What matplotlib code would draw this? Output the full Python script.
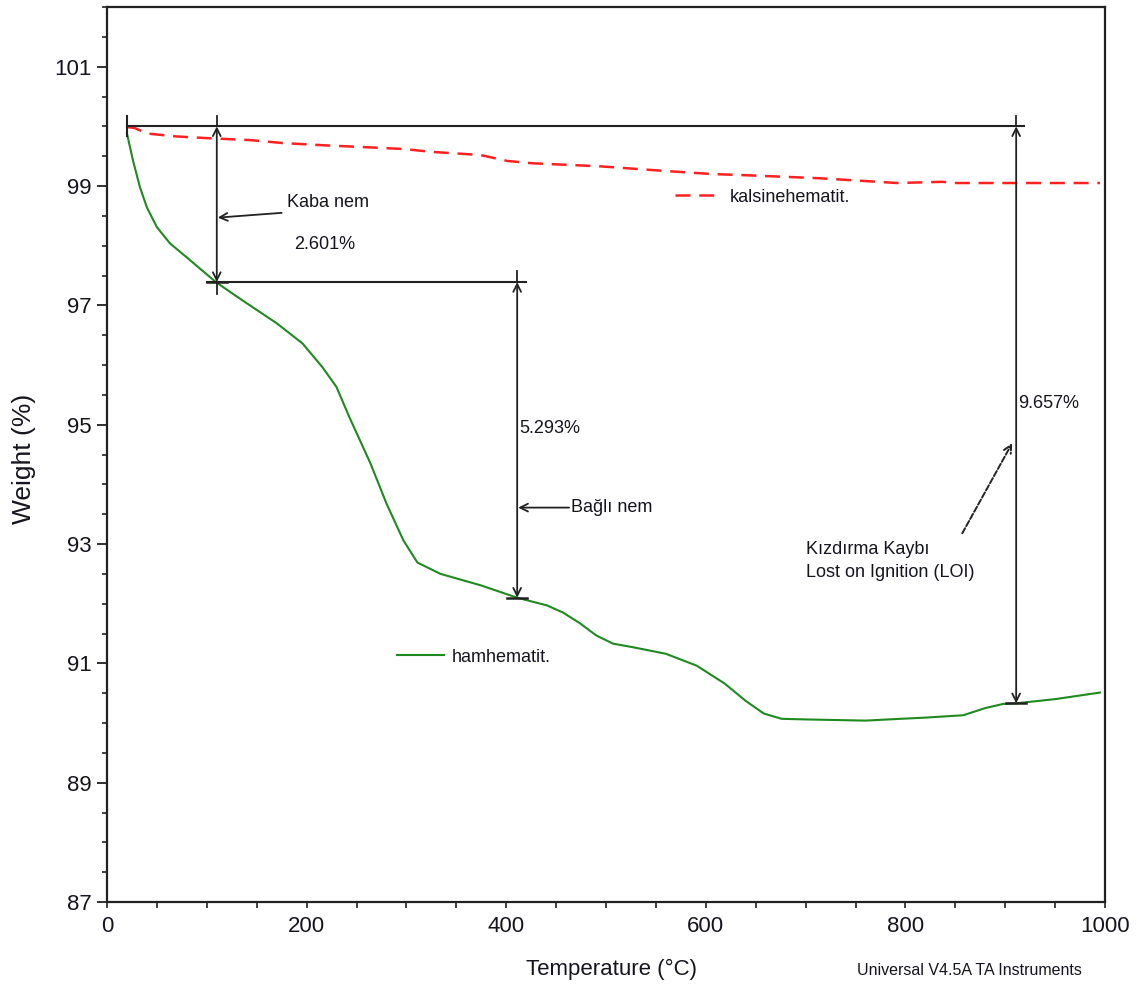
import matplotlib
matplotlib.use('Agg')
import matplotlib.pyplot as plt
from matplotlib import font_manager
from matplotlib.lines import Line2D
from matplotlib.ticker import MultipleLocator

# --- veri (TGA egrileri) ---
ham_T = [20, 26, 33, 40, 50, 63, 83, 109, 136, 170, 196, 216, 230, 243, 264, 280,
         297, 311, 334, 374, 411, 441, 457, 474, 490, 507, 527, 560, 591, 619, 640,
         658, 676, 700, 760, 795, 820, 858, 880, 898, 911, 950, 995]
ham_W = [99.88, 99.43, 98.98, 98.64, 98.31, 98.04, 97.76, 97.39, 97.08, 96.70, 96.36,
         95.96, 95.63, 95.12, 94.35, 93.68, 93.06, 92.69, 92.50, 92.31, 92.10, 91.97,
         91.85, 91.67, 91.47, 91.33, 91.27, 91.16, 90.96, 90.66, 90.37, 90.16, 90.07,
         90.06, 90.04, 90.07, 90.09, 90.13, 90.25, 90.32, 90.33, 90.40, 90.51]

kal_T = [20, 28, 40, 70, 103, 143, 176, 220, 260, 297, 327, 374, 401, 427, 494, 561,
         607, 641, 714, 792, 837, 851, 995]
kal_W = [99.99, 99.97, 99.88, 99.83, 99.80, 99.77, 99.72, 99.68, 99.65, 99.62, 99.57,
         99.52, 99.42, 99.38, 99.33, 99.25, 99.20, 99.18, 99.13, 99.05, 99.07, 99.05, 99.05]

# olcum oklari: (sicaklik, ust agirlik, alt agirlik, etiket)
olcum_T = [110, 411, 911]
olcum_ust = [100.0, 97.39, 100.0]
olcum_alt = [97.39, 92.10, 90.33]
olcum_etiket = ['2.601%', '5.293%', '9.657%']

try:
    font_manager.findfont('Liberation Sans Narrow', fallback_to_default=False)
    dar = 'Liberation Sans Narrow'
    ys = 15
except Exception:
    dar = 'Liberation Sans'
    ys = 13
plt.rcParams['font.family'] = ['Liberation Sans', 'DejaVu Sans']

yazi = '#15151f'
siyah = '#222222'

fig = plt.figure(figsize=(11.48, 9.89), dpi=100)
ax = fig.add_axes([107/1148, 87/989, 998/1148, 895/989])

ax.plot(ham_T, ham_W, color='#1f8a1f', lw=1.5)
ax.plot(kal_T, kal_W, color='#ff2020', lw=1.8, dashes=(6, 3.5))

ax.set_xlim(0, 1000)
ax.set_ylim(87, 102)
ax.xaxis.set_major_locator(MultipleLocator(200))
ax.xaxis.set_minor_locator(MultipleLocator(50))
ax.yaxis.set_minor_locator(MultipleLocator(0.5))
ax.set_yticks([87, 89, 91, 93, 95, 97, 99, 101])
ax.tick_params(axis='y', which='major', length=7, width=1.3, pad=4, labelsize=16, colors=siyah, labelcolor=yazi)
ax.tick_params(axis='y', which='minor', length=3.6, width=1.2, colors=siyah)
ax.tick_params(axis='x', which='both', length=4, width=1.2, pad=6, labelsize=16, colors=siyah, labelcolor=yazi)
for s in ax.spines.values():
    s.set_linewidth(1.6)
    s.set_color(siyah)

ax.set_xlabel('Temperature (°C)', fontsize=16, color=yazi, va='center')
ax.xaxis.set_label_coords(0.506, -0.0755)
ax.set_ylabel('Weight (%)', fontsize=19, color=yazi, va='center')
ax.yaxis.set_label_coords(-0.083, 0.495)

# yatay referans cizgileri
ax.plot([20, 919], [100.0, 100.0], color=siyah, lw=1.5)
ax.plot([100, 420], [97.39, 97.39], color=siyah, lw=1.5)
ax.plot([20, 20], [100.17, 99.83], color=siyah, lw=1.5)

ok = dict(arrowstyle='<->', color=siyah, lw=1.3, mutation_scale=14, shrinkA=0, shrinkB=0)
for i in range(3):
    t = olcum_T[i]
    ax.annotate('', xy=(t, olcum_alt[i]), xytext=(t, olcum_ust[i]), arrowprops=ok)
    ax.plot([t, t], [olcum_ust[i] + 0.18, olcum_ust[i]], color=siyah, lw=1.3)
    ax.plot([t - 10, t + 10], [olcum_alt[i], olcum_alt[i]], color=siyah, lw=1.8)
ax.plot([110, 110], [97.39, 97.19], color=siyah, lw=1.3)

ax.text(188, 98.02, olcum_etiket[0], fontsize=ys, family=dar, color=yazi, va='center')
ax.text(413, 94.94, olcum_etiket[1], fontsize=ys, family=dar, color=yazi, va='center')
ax.text(913, 95.36, olcum_etiket[2], fontsize=ys, family=dar, color=yazi, va='center')

tek = dict(arrowstyle='->', color=siyah, lw=1.3, mutation_scale=14, shrinkA=0, shrinkB=0)
ax.text(180, 98.73, 'Kaba nem', fontsize=ys, family=dar, color=yazi, va='center')
ax.annotate('', xy=(111, 98.47), xytext=(175, 98.55), arrowprops=tek)
ax.text(465, 93.61, 'Bağlı nem', fontsize=ys, family=dar, color=yazi, va='center')
ax.annotate('', xy=(412, 93.61), xytext=(463, 93.61), arrowprops=tek)
ax.text(700, 92.90, 'Kızdırma Kaybı', fontsize=ys, family=dar, color=yazi, va='center')
ax.text(700, 92.52, 'Lost on Ignition (LOI)', fontsize=ys, family=dar, color=yazi, va='center')
ax.annotate('', xy=(907, 94.69), xytext=(857, 93.18),
            arrowprops=dict(arrowstyle='->', color=siyah, lw=1.4, ls=(0, (3, 1.2)),
                            mutation_scale=14, shrinkA=0, shrinkB=0))

# egri etiketleri
l1 = ax.legend([Line2D([], [], color='#1f8a1f', lw=1.5)], ['hamhematit.'],
               loc='center left', bbox_to_anchor=(0.2906, 0.2737), frameon=False,
               borderpad=0, borderaxespad=0, handlelength=2.6, handletextpad=0.45,
               prop={'family': dar, 'size': ys}, labelcolor=yazi)
ax.add_artist(l1)
ax.legend([Line2D([], [], color='#ff2020', lw=1.8, dashes=(6, 3.5))], ['kalsinehematit.'],
          loc='center left', bbox_to_anchor=(0.569, 0.7877), frameon=False,
          borderpad=0, borderaxespad=0, handlelength=2.6, handletextpad=0.45,
          prop={'family': dar, 'size': ys}, labelcolor=yazi)

fig.text(0.7465, 0.0192, 'Universal V4.5A TA Instruments', fontsize=11.5, family=dar,
         color=yazi, va='center')

fig.savefig('out.png', dpi=100)
